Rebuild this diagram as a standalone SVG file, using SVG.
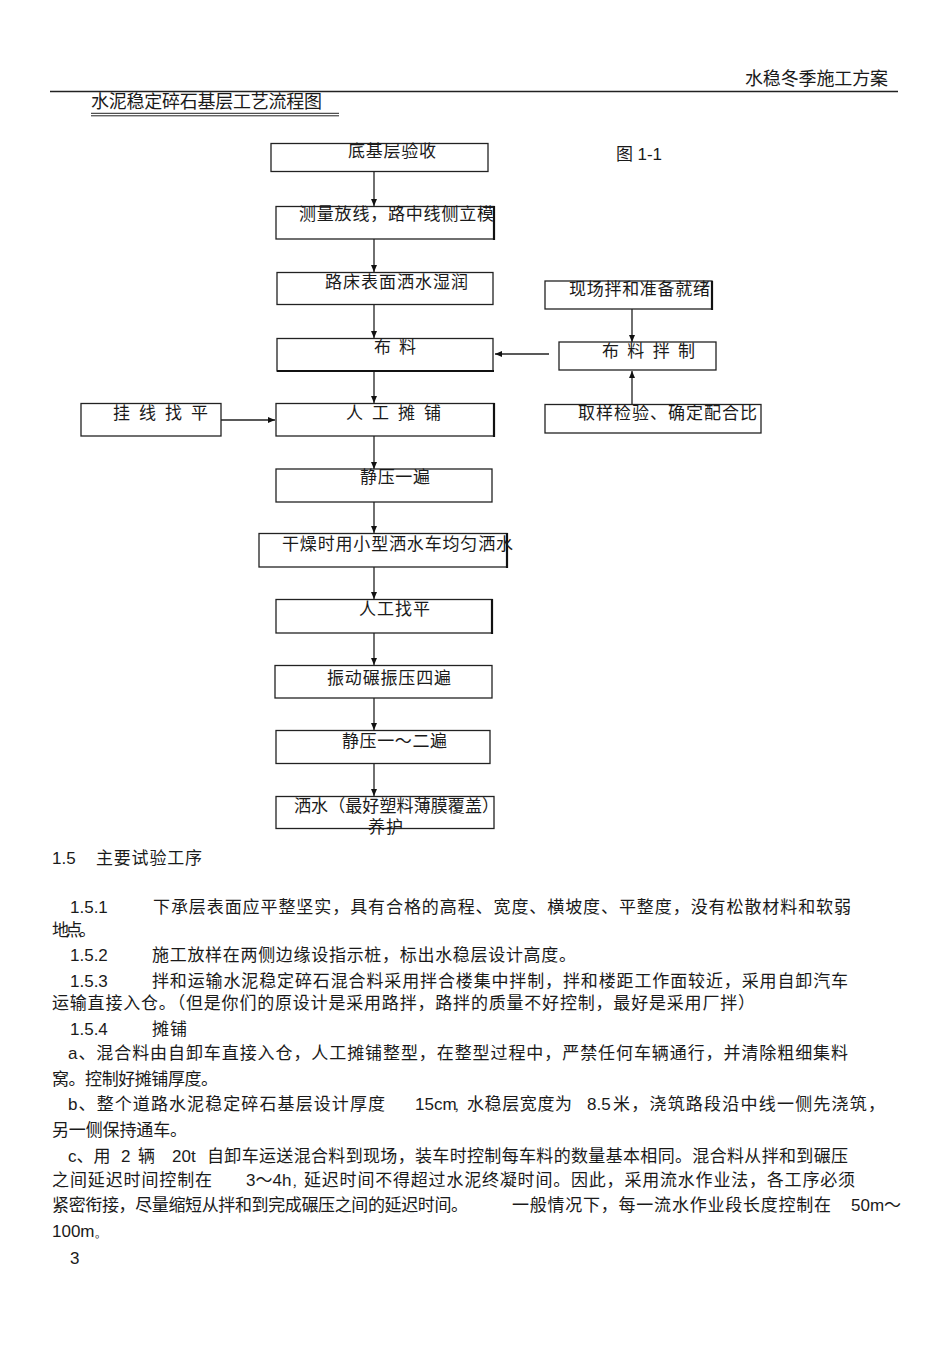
<svg xmlns="http://www.w3.org/2000/svg" width="950" height="1345" viewBox="0 0 950 1345">
<style>
text{font-family:"Liberation Sans","Noto Sans CJK SC",sans-serif;fill:#1a1a1a;}
.n rect{fill:#fff;stroke:#222;stroke-width:1.3;}
.n text{font-size:17px;}
#body text{font-size:17px;}
#body text.s{font-size:11px;}
.c line{stroke:#222;stroke-width:1.3;}
.th{stroke:#111;stroke-width:2.2;}
</style>
<defs>
<marker id="ah" markerUnits="userSpaceOnUse" markerWidth="8" markerHeight="8" refX="7" refY="4" orient="auto">
<path d="M0,1 L7,4 L0,7 Z" fill="#111"/>
</marker>
</defs>
<rect width="950" height="1345" fill="#fff"/>

<g id="header">
<text x="745" y="85" font-size="18" textLength="143" lengthAdjust="spacing">水稳冬季施工方案</text>
<line x1="50" y1="91.5" x2="898" y2="91.5" stroke="#222" stroke-width="1.3"/>
<text x="91" y="108" font-size="18" textLength="231" lengthAdjust="spacing">水泥稳定碎石基层工艺流程图</text>
<line x1="91" y1="113.3" x2="339" y2="113.3" stroke="#222" stroke-width="1"/>
<line x1="91" y1="115.8" x2="339" y2="115.8" stroke="#222" stroke-width="1"/>
<text x="616" y="160" font-size="17" textLength="46" lengthAdjust="spacing">图 1-1</text>
</g>

<g class="c" id="connectors">
<line x1="374" y1="172" x2="374" y2="206" marker-end="url(#ah)"/>
<line x1="374" y1="239" x2="374" y2="272" marker-end="url(#ah)"/>
<line x1="374" y1="304" x2="374" y2="338" marker-end="url(#ah)"/>
<line x1="374" y1="371" x2="374" y2="403" marker-end="url(#ah)"/>
<line x1="374" y1="436" x2="374" y2="469" marker-end="url(#ah)"/>
<line x1="374" y1="502" x2="374" y2="533" marker-end="url(#ah)"/>
<line x1="374" y1="567" x2="374" y2="599" marker-end="url(#ah)"/>
<line x1="374" y1="633" x2="374" y2="665" marker-end="url(#ah)"/>
<line x1="374" y1="698" x2="374" y2="730" marker-end="url(#ah)"/>
<line x1="374" y1="763" x2="374" y2="796" marker-end="url(#ah)"/>
<line x1="221" y1="420" x2="275" y2="420" marker-end="url(#ah)"/>
<line x1="549" y1="354" x2="495" y2="354" marker-end="url(#ah)"/>
<line x1="632" y1="309" x2="632" y2="342" marker-end="url(#ah)"/>
<line x1="632" y1="404" x2="632" y2="371" marker-end="url(#ah)"/>
</g>

<g class="n" id="n1"><rect x="271" y="143.5" width="217" height="28"/><text x="348" y="157" textLength="88" lengthAdjust="spacing">底基层验收</text></g>
<g class="n" id="n2"><rect x="276" y="206.5" width="218" height="32.5"/><line class="th" x1="494" y1="206" x2="494" y2="240"/><text x="299" y="220" textLength="195" lengthAdjust="spacing">测量放线，路中线侧立模</text></g>
<g class="n" id="n3"><rect x="277" y="272.5" width="216" height="32"/><text x="325" y="288" textLength="143" lengthAdjust="spacing">路床表面洒水湿润</text></g>
<g class="n" id="n4"><rect x="277" y="338.5" width="216" height="32.5"/><line class="th" x1="277" y1="371" x2="494" y2="371"/><text x="374" y="353" textLength="42" lengthAdjust="spacing">布 料</text></g>
<g class="n" id="n5"><rect x="276" y="403.5" width="218" height="32.5"/><line class="th" x1="494" y1="403" x2="494" y2="437"/><text x="346" y="419" textLength="95" lengthAdjust="spacing">人 工 摊 铺</text></g>
<g class="n" id="n6"><rect x="81" y="403.5" width="140" height="32.5"/><text x="113" y="419" textLength="95" lengthAdjust="spacing">挂 线 找 平</text></g>
<g class="n" id="n7"><rect x="545" y="281" width="167" height="28"/><line class="th" x1="712" y1="281" x2="712" y2="310"/><text x="569" y="295" textLength="141" lengthAdjust="spacing">现场拌和准备就绪</text></g>
<g class="n" id="n8"><rect x="559" y="342" width="157" height="28"/><text x="602" y="357" textLength="93" lengthAdjust="spacing">布 料 拌 制</text></g>
<g class="n" id="n9"><rect x="545" y="404.5" width="216" height="28.5"/><text x="578" y="419" textLength="179" lengthAdjust="spacing">取样检验、确定配合比</text></g>
<g class="n" id="n10"><rect x="276" y="469" width="216" height="33"/><text x="360" y="483" textLength="70" lengthAdjust="spacing">静压一遍</text></g>
<g class="n" id="n11"><rect x="259" y="533.5" width="248" height="33.5"/><line class="th" x1="507" y1="533" x2="507" y2="568"/><text x="282" y="550" textLength="231" lengthAdjust="spacing">干燥时用小型洒水车均匀洒水</text></g>
<g class="n" id="n12"><rect x="276" y="599.5" width="216" height="33.5"/><line class="th" x1="492" y1="599" x2="492" y2="634"/><text x="359" y="615" textLength="71" lengthAdjust="spacing">人工找平</text></g>
<g class="n" id="n13"><rect x="275" y="665.5" width="217" height="32.5"/><text x="327" y="684" textLength="124" lengthAdjust="spacing">振动碾振压四遍</text></g>
<g class="n" id="n14"><rect x="276" y="730.5" width="214" height="33"/><text x="342" y="747" textLength="105" lengthAdjust="spacing">静压一～二遍</text></g>
<g class="n" id="n15"><rect x="276" y="796.5" width="218" height="32"/><text x="294" y="812" textLength="205" lengthAdjust="spacing">洒水（最好塑料薄膜覆盖）</text><text x="368" y="833" textLength="35" lengthAdjust="spacing">养护</text></g>

<g id="body">
<text x="52" y="864">1.5</text>
<text x="96" y="864" textLength="106" lengthAdjust="spacing">主要试验工序</text>
<text x="70" y="913">1.5.1</text>
<text x="153" y="913" textLength="698" lengthAdjust="spacing">下承层表面应平整坚实，具有合格的高程、宽度、横坡度、平整度，没有松散材料和软弱</text>
<text x="52" y="936" textLength="44" lengthAdjust="spacing">地点。</text>
<text x="70" y="961">1.5.2</text>
<text x="152" y="961" textLength="424" lengthAdjust="spacing">施工放样在两侧边缘设指示桩，标出水稳层设计高度。</text>
<text x="70" y="987">1.5.3</text>
<text x="152" y="987" textLength="696" lengthAdjust="spacing">拌和运输水泥稳定碎石混合料采用拌合楼集中拌制，拌和楼距工作面较近，采用自卸汽车</text>
<text x="52" y="1009" textLength="703" lengthAdjust="spacing">运输直接入仓。（但是你们的原设计是采用路拌，路拌的质量不好控制，最好是采用厂拌）</text>
<text x="70" y="1035">1.5.4</text>
<text x="152" y="1035" textLength="35" lengthAdjust="spacing">摊铺</text>
<text x="68" y="1059" textLength="780" lengthAdjust="spacing">a、混合料由自卸车直接入仓，人工摊铺整型，在整型过程中，严禁任何车辆通行，并清除粗细集料</text>
<text x="52" y="1085" textLength="166" lengthAdjust="spacing">窝。控制好摊铺厚度。</text>
<text x="68" y="1110" textLength="317" lengthAdjust="spacing">b、整个道路水泥稳定碎石基层设计厚度</text>
<text x="415" y="1110">15cm</text>
<text class="s" x="454" y="1111">，</text>
<text x="467" y="1110" textLength="105" lengthAdjust="spacing">水稳层宽度为</text>
<text x="587" y="1110">8.5</text>
<text x="613" y="1110" textLength="272" lengthAdjust="spacing">米，浇筑路段沿中线一侧先浇筑，</text>
<text x="52" y="1136" textLength="135" lengthAdjust="spacing">另一侧保持通车。</text>
<text x="68" y="1162">c、用</text>
<text x="121" y="1162">2</text>
<text x="138" y="1162">辆</text>
<text x="172" y="1162">20t</text>
<text x="207" y="1162" textLength="641" lengthAdjust="spacing">自卸车运送混合料到现场，装车时控制每车料的数量基本相同。混合料从拌和到碾压</text>
<text x="52" y="1186" textLength="160" lengthAdjust="spacing">之间延迟时间控制在</text>
<text x="246" y="1186">3～4h</text>
<text class="s" x="292" y="1187">，</text>
<text x="304" y="1186" textLength="551" lengthAdjust="spacing">延迟时间不得超过水泥终凝时间。因此，采用流水作业法，各工序必须</text>
<text x="52" y="1211" textLength="416" lengthAdjust="spacing">紧密衔接，尽量缩短从拌和到完成碾压之间的延迟时间。</text>
<text x="512" y="1211" textLength="319" lengthAdjust="spacing">一般情况下，每一流水作业段长度控制在</text>
<text x="851" y="1211">50m～</text>
<text x="52" y="1237">100m</text>
<text class="s" x="95" y="1238">。</text>
<text x="70" y="1264">3</text>
</g>
</svg>
